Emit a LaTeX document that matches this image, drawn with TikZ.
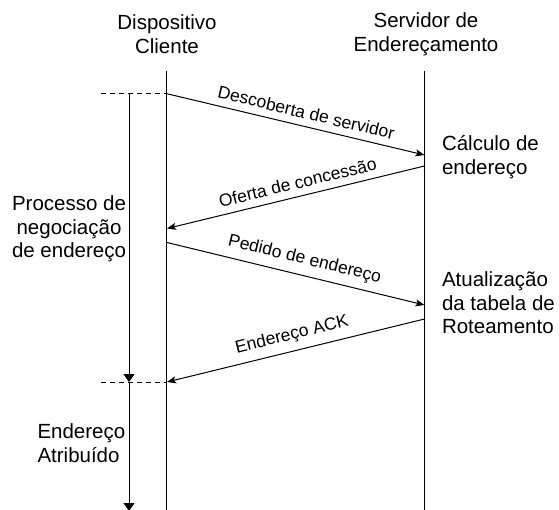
\documentclass[tikz,border=0pt]{standalone}
\usepackage{fontspec}
\setmainfont{Liberation Sans}
\usetikzlibrary{arrows.meta}
\begin{document}
\begin{tikzpicture}[x=1pt,y=-1pt, line width=1pt,
  lbl/.style={font=\fontsize{20.5}{23.5}\selectfont, inner sep=0pt},
  msg/.style={-{Stealth[length=9pt,width=7pt,inset=2pt]}},
  msgtxt/.style={font=\fontsize{17.5}{20}\selectfont, sloped, above, inner sep=7pt},
  phase/.style={-{Triangle[length=8pt,width=11pt]}},
  guide/.style={dash pattern=on 5pt off 4pt}]
\useasboundingbox (0,0) rectangle (559,509);
% headers
\node[lbl, align=center] (hc) at (167,34) {Dispositivo\\Cliente};
\node[lbl, align=center] (hs) at (426,34) {Servidor de\\Endereçamento};
% lifelines
\coordinate (ct) at (166,71);   \coordinate (cb) at (166,515);
\coordinate (st) at (424.5,71); \coordinate (sb) at (424.5,515);
\draw (ct) -- (cb);
\draw (st) -- (sb);
% message end points
\coordinate (m1a) at (166,93.5);  \coordinate (m1b) at (424.5,155);
\coordinate (m2a) at (424.5,166); \coordinate (m2b) at (167,228.5);
\coordinate (m3a) at (167,242.5); \coordinate (m3b) at (424.5,305);
\coordinate (m4a) at (424.5,319); \coordinate (m4b) at (167,382);
\draw[msg] (m1a) -- node[msgtxt, pos=0.53] {Descoberta de servidor} (m1b);
\draw[msg] (m2a) -- node[msgtxt, pos=0.48] {Oferta de concessão} (m2b);
\draw[msg] (m3a) -- node[msgtxt, pos=0.52] {Pedido de endereço} (m3b);
\draw[msg] (m4a) -- node[msgtxt, pos=0.5] {Endereço ACK} (m4b);
% phases
\coordinate (d1) at (101,93.5); \coordinate (d2) at (101,382);
\coordinate (p1) at (129,93.5); \coordinate (p2) at (129,382); \coordinate (p3) at (129,511);
\draw[guide] (d1) -- (m1a);
\draw[guide] (d2) -- (m4b);
\draw[phase] (p1) -- (p2);
\draw[phase] (p2) -- (p3);
% side labels
\node[lbl, align=center] (proc) at (69,229) {Processo de\\negociação\\de endereço};
\node[lbl, align=left, anchor=west] (attr) at (37,443) {Endereço\\Atribuído};
\node[lbl, align=left, anchor=west] (calc) at (441.5,157) {Cálculo de\\endereço};
\node[lbl, align=left, anchor=west] (upd) at (441.5,303) {Atualização\\da tabela de\\Roteamento};
\end{tikzpicture}
\end{document}
